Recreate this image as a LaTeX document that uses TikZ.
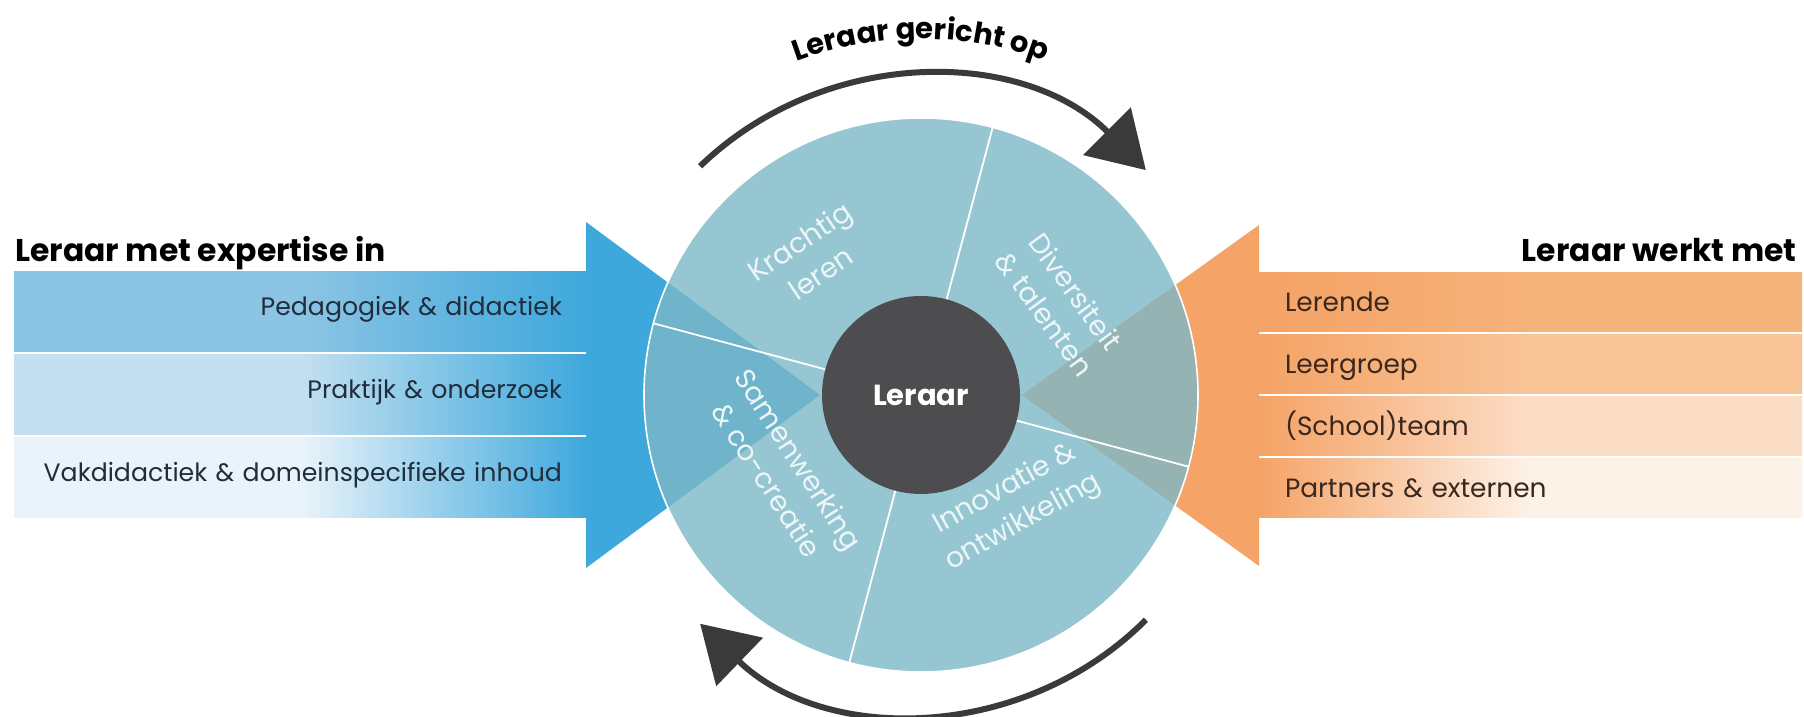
\documentclass[tikz,border=0pt]{standalone}
\usepackage{fontspec}
\setmainfont{Poppins}
\usetikzlibrary{positioning,arrows.meta,decorations.text}

\definecolor{expertBlue}{RGB}{62,168,220}
\definecolor{expertRowA}{RGB}{140,196,228}
\definecolor{expertRowB}{RGB}{196,224,240}
\definecolor{expertRowC}{RGB}{234,243,250}
\definecolor{partnerOrange}{RGB}{245,163,102}
\definecolor{partnerRowA}{RGB}{245,178,122}
\definecolor{partnerRowB}{RGB}{248,196,152}
\definecolor{partnerRowC}{RGB}{252,221,198}
\definecolor{partnerRowD}{RGB}{253,242,232}
\definecolor{wheelTeal}{RGB}{124,184,198}
\definecolor{coreGrey}{RGB}{77,77,79}
\definecolor{turnGrey}{RGB}{58,58,58}
\definecolor{expertInk}{RGB}{32,45,60}
\definecolor{partnerInk}{RGB}{58,40,30}
\definecolor{labelWhite}{RGB}{236,246,248}

\tikzset{
  heading/.style={inner sep=0pt, font=\fontsize{15.7}{18}\selectfont\bfseries},
  expertrow/.style={rectangle, inner xsep=12pt, inner ysep=0pt, outer sep=0pt,
    minimum width=286pt, minimum height=40pt, text width=262pt, align=right,
    text height=0.75em, text depth=0.37em, text=expertInk,
    font=\fontsize{12.6}{15}\selectfont,
    left color=#1, right color=expertBlue, middle color=#1},
  partnerrow/.style={rectangle, inner xsep=13pt, inner ysep=0pt, outer sep=0pt,
    minimum width=271.5pt, minimum height=29.5pt, text width=245.5pt, align=left,
    text height=1em, text depth=0.06em, text=partnerInk,
    font=\fontsize{13.2}{15}\selectfont,
    left color=partnerOrange, right color=#1, middle color=#1},
  wheel/.style={circle, inner sep=0pt, outer sep=0pt, minimum size=277pt,
    fill=wheelTeal, fill opacity=.8, draw=white, line width=.8pt},
  core/.style={circle, inner sep=0pt, minimum size=99pt, fill=coreGrey,
    text=white, font=\fontsize{14.5}{17}\selectfont\bfseries},
  divider/.style={draw=white, line width=.9pt},
  sector/.style={inner sep=0pt, align=center, text=labelWhite,
    font=\fontsize{14}{19}\selectfont},
  turnarrow/.style={draw=turnGrey, line width=3pt,
    -{Triangle[length=27.5pt, width=33pt]}}
}

\begin{document}
\begin{tikzpicture}[x=0.5pt, y=0.5pt, node distance=1.5pt]
\useasboundingbox (0,0) rectangle (1804,717);
\coordinate (hub) at (921,322);
\coordinate (leftTip) at ([xshift=-50.5pt]hub);
\coordinate (rightTip) at ([xshift=50.5pt]hub);

\node[expertrow=expertRowA] (Pedagogiek) at (300,405) {Pedagogiek \& didactiek};
\node[expertrow=expertRowB] (Praktijk) [below=of Pedagogiek] {Praktijk \& onderzoek};
\node[expertrow=expertRowC] (Vakdidactiek) [below=of Praktijk] {Vakdidactiek \& domeinspecifieke inhoud};
\fill[expertBlue] ([yshift=25pt]Pedagogiek.north east) -- (leftTip) -- ([yshift=-25pt]Vakdidactiek.south east) -- cycle;

\node[partnerrow=partnerRowA] (Lerende) at (1530.5,414.5) {Lerende};
\node[partnerrow=partnerRowB] (Leergroep) [below=of Lerende] {Leergroep};
\node[partnerrow=partnerRowC] (Schoolteam) [below=of Leergroep] {(School)team};
\node[partnerrow=partnerRowD] (Partners) [below=of Schoolteam] {Partners \& externen};
\fill[partnerOrange] ([yshift=24pt]Lerende.north west) -- (rightTip) -- ([yshift=-24pt]Partners.south west) -- cycle;

\node[wheel] (wheel) at (hub) {};
\foreach \a in {75,165,255,345}
  \draw[divider] (hub) -- (wheel.\a);
\node[core] (Leraar) at (hub) {Leraar};

\node[sector, rotate=34] (Krachtig) at ([shift={(128.8:177)}]hub) {Krachtig\\leren};
\node[sector, rotate=-54] (Diversiteit) at ([shift={(33.5:167)}]hub) {Diversiteit\\\& talenten};
\node[sector, rotate=-57] (Samenwerking) at ([shift={(208.5:157)}]hub) {Samenwerking\\\& co-creatie};
\node[sector, rotate=29] (Innovatie) at ([shift={(310:145)}]hub) {Innovatie \&\\ontwikkeling};

\coordinate (topStart) at ([shift={(134:318)}]hub);
\coordinate (bottomStart) at ([shift={(-45:318)}]hub);
\draw[turnarrow] (topStart) arc[start angle=134, end angle=45, radius=318];
\draw[turnarrow] (bottomStart) arc[start angle=-45, end angle=-134, radius=318];

\coordinate (titleStart) at ([shift={(125:356)}]hub);
\path[decorate, decoration={text along path, text align=center,
  text={|\fontsize{14.5}{17}\selectfont\bfseries|Leraar gericht op}}]
  (titleStart) arc[start angle=125, end angle=55, radius=356];

\node[heading, anchor=base west] (expertise) at (15,455) {Leraar met expertise in};
\node[heading, anchor=base east] (werkt) at (1797,455) {Leraar werkt met};
\end{tikzpicture}
\end{document}
